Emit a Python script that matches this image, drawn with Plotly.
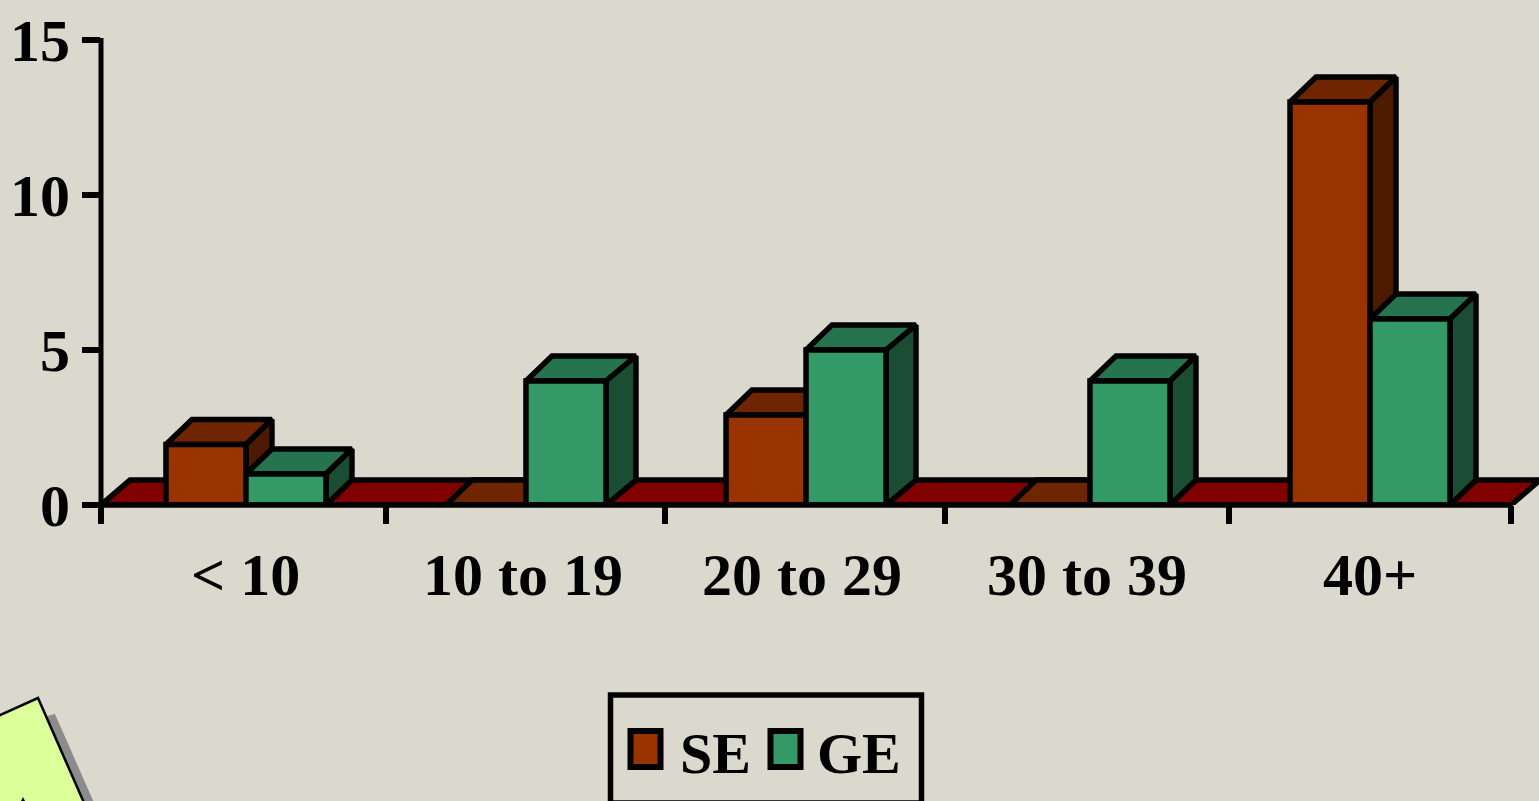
import plotly.graph_objects as go

# --- data ---
categories = ["< 10", "10 to 19", "20 to 29", "30 to 39", "40+"]
se_values = [1.95, 0, 2.9, 0, 13]
ge_values = [1, 4, 5, 4, 6]
y_ticks = [0, 5, 10, 15]

# --- figure geometry and style ---
W, H = 1539, 801
LEFT, RIGHT, TOP, BOTTOM = 101, 1511, 40, 505
X_PER_SLOT = (RIGHT - LEFT) / 5
Y_PER_UNIT = (BOTTOM - TOP) / 15
slot_edges = [0, 1.011, 2.0, 2.993, 4.0, 5]
slot_centres = [0.514, 1.507, 2.5, 3.507, 4.5]
label_centres = [0.514, 1.496, 2.486, 3.496, 4.5]
BAR_W = 80 / X_PER_SLOT
DX = 26 / X_PER_SLOT
DY = 25 / Y_PER_UNIT
FLOOR_DX = 29 / X_PER_SLOT
FLOOR_DY = 25 / Y_PER_UNIT
se_extra_depth = [0, 0, 0, 0, 0]
ge_extra_depth = [0, 4 / X_PER_SLOT, 4 / X_PER_SLOT, 0, 0]
LW = 5.5
BG = "#DBD9CD"
FONT = "Liberation Serif"

SE_C = ("#993300", "#6F2500", "#4D1A00")
GE_C = ("#339966", "#267350", "#1A4D33")
FLOOR_C = "#800000"


def px(x):
    return x / W


def py(y):
    return 1 - y / H


def faces(values, offset, extra):
    front, top, side = ([], []), ([], []), ([], [])

    def add(face, xs, ys):
        face[0].extend(xs + [None])
        face[1].extend(ys + [None])

    for c, v, e in zip(slot_centres, values, extra):
        x0 = c + offset
        x1 = x0 + BAR_W
        add(top, [x0, x1, x1 + DX + e, x0 + DX, x0], [v, v, v + DY, v + DY, v])
        if v > 0:
            add(side, [x1, x1 + DX + e, x1 + DX + e, x1, x1], [0, DY, v + DY, v, 0])
            add(front, [x0, x1, x1, x0, x0], [0, 0, v, v, 0])
        else:
            add(front, [x0, x1], [0, 0])
    return front, top, side


def poly(face, colour, name):
    return go.Scatter(
        x=face[0], y=face[1], mode="lines", fill="toself", fillcolor=colour,
        line=dict(color="black", width=LW), cliponaxis=False, name=name,
        hoverinfo="skip", showlegend=False,
    )


fig = go.Figure()

# floor
fig.add_trace(poly(([0, 5, 5 + FLOOR_DX, FLOOR_DX, 0], [0, 0, FLOOR_DY, FLOOR_DY, 0]), FLOOR_C, "floor"))

for vals, off, cols, name, extra in [
    (se_values, -BAR_W, SE_C, "SE", se_extra_depth),
    (ge_values, 0, GE_C, "GE", ge_extra_depth),
]:
    front, top, side = faces(vals, off, extra)
    fig.add_trace(poly(top, cols[1], name))
    fig.add_trace(poly(side, cols[2], name))
    fig.add_trace(poly(front, cols[0], name))

annotations = [
    dict(x=c, y=py(575), xref="x", yref="paper", text=t, showarrow=False,
         xanchor="center", yanchor="middle",
         font=dict(family=FONT, size=60, color="black", weight="bold"))
    for c, t in zip(label_centres, categories)
]
annotations += [
    dict(x=px(cx), y=py(753), xref="paper", yref="paper", text=t, showarrow=False,
         xanchor="center", yanchor="middle",
         font=dict(family=FONT, size=58, color="black", weight="bold"))
    for cx, t in [(715, "SE"), (859, "GE")]
]


def rect(x0, y0, x1, y1, fill, lw, colour="black"):
    return dict(type="rect", xref="paper", yref="paper", x0=px(x0), x1=px(x1),
                y0=py(y1), y1=py(y0), fillcolor=fill,
                line=dict(color=colour, width=lw), layer="above")


def path(points, fill, lw, colour="black"):
    d = "M " + " L ".join(f"{px(a):.5f},{py(b):.5f}" for a, b in points) + " Z"
    return dict(type="path", xref="paper", yref="paper", path=d, fillcolor=fill,
                line=dict(color=colour, width=lw), layer="above")


def seg(x0, y0, x1, y1, lw):
    return dict(type="line", xref="paper", yref="paper", x0=px(x0), x1=px(x1),
                y0=py(y0), y1=py(y1), line=dict(color="black", width=lw), layer="above")


shapes = [
    # axis lines
    seg(LEFT, TOP - 2, LEFT, BOTTOM + 18, 5),
    seg(LEFT - 18, BOTTOM, RIGHT + 2, BOTTOM, LW),
    rect(610.5, 695, 921.5, 803, "rgba(0,0,0,0)", LW),
    rect(630.5, 731, 660.5, 767, SE_C[0], 6),
    rect(770.5, 731, 800.5, 767, GE_C[0], 6),
    # sticky note in the corner
    path([(47, 716), (55, 714), (95, 805), (80, 805)], "#8C8C8C", 0, "rgba(0,0,0,0)"),
    path([(-4, 717), (38, 698), (85, 805), (-4, 805)], "#DDFF99", 2.5),
    path([(21, 801), (23, 797), (25, 801)], "black", 0, "rgba(0,0,0,0)"),
]

fig.update_layout(
    width=W, height=H,
    margin=dict(l=0, r=0, t=0, b=0, autoexpand=False),
    paper_bgcolor=BG, plot_bgcolor=BG,
    showlegend=False,
    annotations=annotations, shapes=shapes,
    xaxis=dict(
        automargin=False,
        domain=[px(LEFT), 1], range=[0, (W - LEFT) / X_PER_SLOT], tickmode="array",
        tickvals=slot_edges, ticktext=[""] * len(slot_edges), ticks="outside",
        ticklen=18, tickwidth=LW, tickcolor="black", showgrid=False, zeroline=False,
        showline=False,
    ),
    yaxis=dict(
        automargin=False,
        domain=[py(BOTTOM), py(TOP)], range=[0, 15], tickmode="array",
        tickvals=y_ticks, ticktext=[str(v) for v in y_ticks], ticks="outside",
        ticklen=18, tickwidth=LW, tickcolor="black", showgrid=False, zeroline=False,
        showline=False, ticklabelstandoff=0,
        tickfont=dict(family=FONT, size=60, color="black", weight="bold"),
    ),
)

fig.write_html(
    "out.html",
    config=dict(displayModeBar=False),
    post_script="document.body.style.margin='0';document.documentElement.style.background='%s';document.documentElement.style.overflow='hidden';" % BG,
)
